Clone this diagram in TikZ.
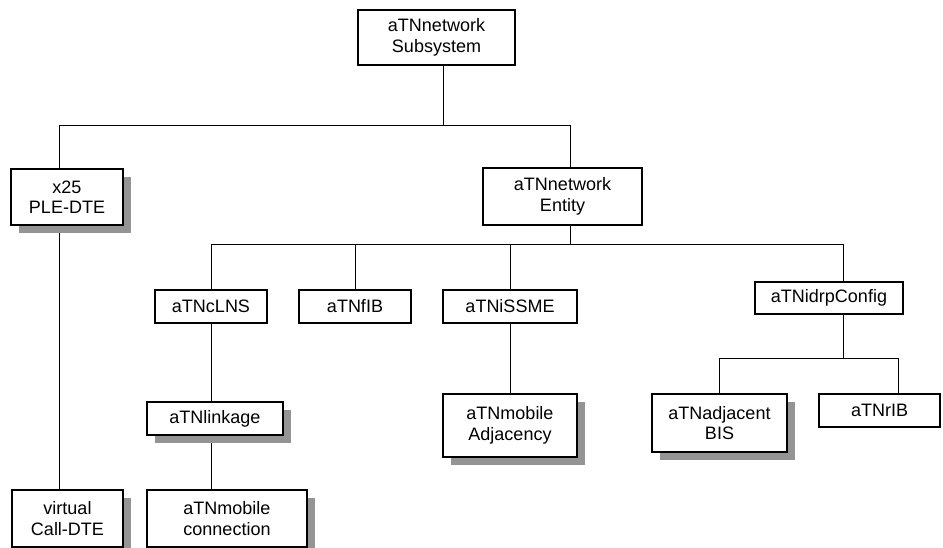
\documentclass[tikz,border=0pt]{standalone}
\usepackage{fontspec}
\setmainfont{Liberation Sans}
\usetikzlibrary{shadows,backgrounds}

\tikzset{
    box/.style={draw, line width=1.1pt, fill=white, align=center, inner sep=0pt,
        font=\fontsize{18}{20.5}\selectfont},
    shadowbox/.style={box, drop shadow={shadow xshift=8pt, shadow yshift=-8pt,
        fill=black!42, opacity=1}},
    link/.style={line width=1pt}
}

\begin{document}
\begin{tikzpicture}[x=1pt,y=-1pt]
    \useasboundingbox (0,0) rectangle (943,548);

    % Kästen
    \node[box, minimum width=157, minimum height=55] (top) at (436.5,37.5) {aTNnetwork\\Subsystem};
    \node[shadowbox, minimum width=112, minimum height=56] (x25) at (67,197) {x25\\PLE-DTE};
    \node[shadowbox, minimum width=111, minimum height=57] (virt) at (67.5,518.5) {virtual\\Call-DTE};
    \node[box, minimum width=159, minimum height=57] (ent) at (562.5,196.5) {aTNnetwork\\Entity};
    \node[box, minimum width=112, minimum height=33] (clns) at (211,306.5) {aTNcLNS};
    \node[box, minimum width=112, minimum height=33] (fib) at (355,306.5) {aTNfIB};
    \node[box, minimum width=134, minimum height=33] (issme) at (510,306.5) {aTNiSSME};
    \node[box, minimum width=148, minimum height=32] (idrp) at (829,298) {aTNidrpConfig};
    \node[shadowbox, minimum width=136, minimum height=33] (link) at (215,418.5) {aTNlinkage};
    \node[shadowbox, minimum width=160, minimum height=57] (mconn) at (227,518.5) {aTNmobile\\connection};
    \node[shadowbox, minimum width=134, minimum height=63] (madj) at (510,425.5) {aTNmobile\\Adjacency};
    \node[shadowbox, minimum width=135, minimum height=58] (bis) at (719.5,423) {aTNadjacent\\BIS};
    \node[box, minimum width=121, minimum height=33] (rib) at (879.5,410.5) {aTNrIB};

    % Abzweigpunkte
    \coordinate (j0) at (443,126);
    \coordinate (j25) at (59,126);
    \coordinate (jent) at (570,126);
    \coordinate (j1) at (570,245);
    \coordinate (jcfg) at (843,245);
    \coordinate (j2) at (843,358);
    \coordinate (jrib) at (898,358);

    % Verbindungen (hinter den Schatten)
    \begin{scope}[on background layer]
        \draw[link] (j0 |- top.south) -- (j0);
        \draw[link] (j25 |- x25.north) -- (j25) -- (jent) -- (jent |- ent.north);
        \draw[link] (j25 |- x25.south) -- (j25 |- virt.north);

        \draw[link] (j1 |- ent.south) -- (j1);
        \draw[link] (clns.north |- j1) -- (jcfg) -- (jcfg |- idrp.north);
        \foreach \n in {clns,fib,issme} {
            \draw[link] (\n.north) -- (\n.north |- j1);
        }
        \draw[link] (clns.south) -- (clns.south |- link.north);
        \draw[link] (clns.south |- link.south) -- (clns.south |- mconn.north);
        \draw[link] (issme.south) -- (issme.south |- madj.north);

        \draw[link] (jcfg |- idrp.south) -- (j2);
        \draw[link] (bis.north) |- (jrib) -- (jrib |- rib.north);
    \end{scope}
\end{tikzpicture}
\end{document}
